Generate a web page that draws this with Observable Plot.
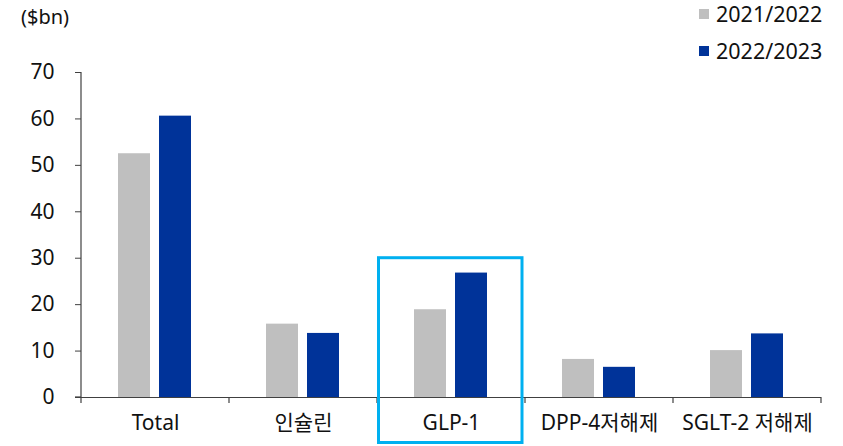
<!DOCTYPE html>
<html>
<head>
<meta charset="utf-8">
<script src="https://cdn.jsdelivr.net/npm/d3@7"></script>
<script src="https://cdn.jsdelivr.net/npm/@observablehq/plot@0.6"></script>
<style>
  body { margin: 0; background: #fff; }
  #wrap { position: relative; width: 843px; height: 446px; font-family: "Noto Sans", "Noto Sans CJK KR", sans-serif; color: #111; }
  #unit { position: absolute; left: 21px; top: 3px; font-size: 20px; }
  .legend { position: absolute; left: 699px; font-size: 21.5px; line-height: 28px; display: flex; align-items: center; }
  .legend span.sw { display: inline-block; width: 10px; height: 10px; margin-right: 7px; }
  #chart { position: absolute; left: 0; top: 0; }
</style>
</head>
<body>
<div id="wrap">
  <div id="chart"></div>
  <div id="unit">($bn)</div>
  <div id="legend"></div>
</div>
<script>
// Diabetes drug sales by class ($bn)
const categories = ["Total", "인슐린", "GLP-1", "DPP-4저해제", "SGLT-2 저해제"];
const seasons = ["2021/2022", "2022/2023"];
const sales2021_2022 = [52.5, 15.8, 18.9, 8.2, 10.1];
const sales2022_2023 = [60.6, 13.8, 26.8, 6.5, 13.7];
const yTicks = [0, 10, 20, 30, 40, 50, 60, 70];
const seasonColors = ["#bfbfbf", "#003399"];
const highlighted = "GLP-1";
const highlightTop = 30;

const rows = categories.flatMap((c, i) => [
  {category: c, season: seasons[0], value: sales2021_2022[i]},
  {category: c, season: seasons[1], value: sales2022_2023[i]}
]);

const chart = Plot.plot({
  width: 843,
  height: 446,
  marginLeft: 79,
  marginRight: 21,
  marginTop: 72,
  marginBottom: 49,
  style: {fontFamily: '"Noto Sans", "Noto Sans CJK KR", sans-serif', fontSize: "21px", color: "#111", overflow: "visible"},
  fx: {domain: categories, padding: 0, label: null, axis: null},
  x: {domain: seasons, paddingInner: 0.214, paddingOuter: 0.876, axis: null},
  y: {domain: [0, 70], ticks: yTicks, label: null},
  color: {domain: seasons, range: seasonColors},
  marks: [
    Plot.axisY({ticks: yTicks, tickSize: 6, tickPadding: 21, label: null, stroke: "#404040"}),
    Plot.axisFx({anchor: "bottom", tickSize: 0, tickPadding: 18, label: null}),
    Plot.barY(rows, {fx: "category", x: "season", y: "value", fill: "season"}),
    Plot.ruleY([0], {stroke: "#404040", strokeWidth: 1.2})
  ]
});

document.getElementById("chart").append(chart);

// category separators, y axis line and highlight box, placed with the plot's scales
const fx = chart.scale("fx");
const y = chart.scale("y");
const svg = d3.select(chart.tagName === "svg" ? chart : chart.querySelector("svg"));
const bw = fx.bandwidth;
const edges = categories.map(c => fx.apply(c)).concat([fx.apply(categories[categories.length - 1]) + bw]);
const g = svg.append("g").attr("stroke", "#404040").attr("stroke-width", 1.2);
g.selectAll("line.sep").data(edges).join("line")
  .attr("x1", d => d).attr("x2", d => d)
  .attr("y1", y.apply(0)).attr("y2", y.apply(0) + 6);
g.append("line")
  .attr("x1", edges[0]).attr("x2", edges[0])
  .attr("y1", y.apply(70)).attr("y2", y.apply(0));
g.append("line")
  .attr("x1", edges[0] - 6).attr("x2", edges[0])
  .attr("y1", y.apply(0)).attr("y2", y.apply(0));

const hx = fx.apply(highlighted);
svg.append("rect")
  .attr("x", hx + 1.5).attr("width", bw - 4.5)
  .attr("y", y.apply(highlightTop)).attr("height", 444 - y.apply(highlightTop) - 1.5)
  .attr("fill", "none").attr("stroke", "#00b0f0").attr("stroke-width", 3);

// legend
const legend = document.getElementById("legend");
seasons.forEach((s, i) => {
  const item = document.createElement("div");
  item.className = "legend";
  item.style.top = (0 + i * 37) + "px";
  item.innerHTML = `<span class="sw" style="background:${seasonColors[i]}"></span>${s}`;
  legend.append(item);
});
</script>
</body>
</html>
